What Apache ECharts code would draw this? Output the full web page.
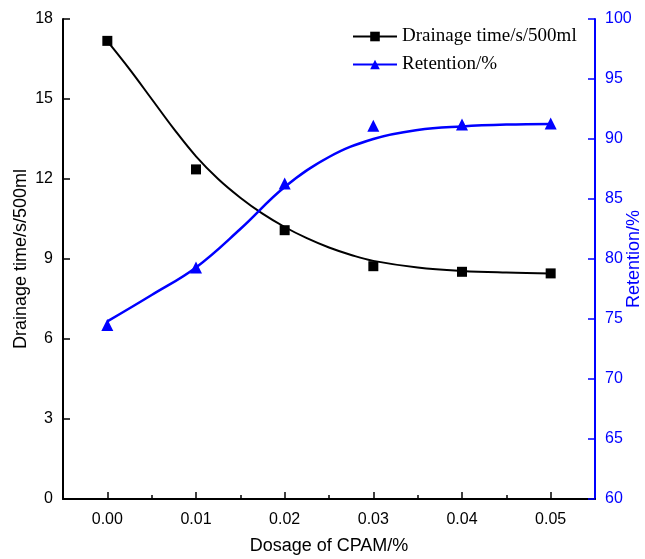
<!DOCTYPE html>
<html>
<head>
<meta charset="utf-8">
<script src="https://cdn.jsdelivr.net/npm/echarts@6/dist/echarts.min.js"></script>
<style>
  html, body { margin: 0; padding: 0; background: #fff; }
  #chart { width: 645px; height: 559px; }
</style>
</head>
<body>
<div id="chart"></div>
<script>
// measured points
const dosage = [0.00, 0.01, 0.02, 0.03, 0.04, 0.05];
const drainage = [17.18, 12.36, 10.08, 8.73, 8.52, 8.46];
const retention = [74.5, 79.3, 86.3, 91.1, 91.2, 91.3];

// fitted curves
const drainFitX = [0, 0.0025, 0.005, 0.0075, 0.01, 0.0125, 0.015, 0.0175, 0.02, 0.0225, 0.025, 0.0275, 0.03, 0.035, 0.04, 0.045, 0.05];
const drainFitY = [17.17, 16.12, 15.0, 13.88, 12.85, 12.0, 11.3, 10.7, 10.2, 9.78, 9.43, 9.15, 8.93, 8.68, 8.55, 8.49, 8.46];
const retFitX = [0, 0.005, 0.01, 0.015, 0.02, 0.025, 0.03, 0.035, 0.04, 0.045, 0.05];
const retFitY = [74.8, 77.0, 79.3, 82.5, 86.0, 88.5, 90.0, 90.75, 91.05, 91.2, 91.25];

const majorTicks = [0, 0.01, 0.02, 0.03, 0.04, 0.05];
const minorTicks = [0.005, 0.015, 0.025, 0.035, 0.045];

const zip = (a, b) => a.map((v, i) => [v, b[i]]);

const chart = echarts.init(document.getElementById('chart'));

const option = {
    animation: false,
    grid: { left: 63, right: 50, top: 19, bottom: 60, containLabel: false, outerBoundsMode: 'none' },
    legend: {
        data: ['Drainage time/s/500ml', 'Retention/%'],
        orient: 'vertical',
        left: 347,
        top: 22,
        itemWidth: 44,
        itemHeight: 12,
        itemGap: 9,
        textStyle: { fontFamily: 'Liberation Serif', fontSize: 19, color: '#000' }
    },
    xAxis: [
        {
            type: 'value',
            min: -0.005,
            max: 0.055,
            name: 'Dosage of CPAM/%',
            nameLocation: 'middle',
            nameGap: 38,
            nameTextStyle: { fontFamily: 'Liberation Sans', fontSize: 18, color: '#000' },
            splitLine: { show: false },
            axisLine: { onZero: false, lineStyle: { color: '#000', width: 2 } },
            axisTick: { inside: true, length: 7, lineStyle: { width: 1.5 }, customValues: majorTicks },
            axisLabel: {
                customValues: majorTicks,
                margin: 13,
                fontFamily: 'Liberation Sans', fontSize: 16, color: '#000',
                formatter: v => v.toFixed(2)
            }
        },
        {
            type: 'value',
            min: -0.005,
            max: 0.055,
            position: 'bottom',
            splitLine: { show: false },
            axisLine: { show: false, onZero: false },
            axisTick: { inside: true, length: 4, lineStyle: { color: '#000', width: 1.5 }, customValues: minorTicks },
            axisLabel: { show: false }
        }
    ],
    yAxis: [
        {
            type: 'value',
            min: 0,
            max: 18,
            interval: 3,
            position: 'left',
            name: 'Drainage time/s/500ml',
            nameLocation: 'middle',
            nameGap: 33,
            nameMoveOverlap: false,
            nameTextStyle: { fontFamily: 'Liberation Sans', fontSize: 18, color: '#000' },
            splitLine: { show: false },
            axisLine: { show: true, onZero: false, lineStyle: { color: '#000', width: 2 } },
            axisTick: { show: true, inside: true, length: 7, lineStyle: { width: 1.5 } },
            axisLabel: { margin: 10, fontFamily: 'Liberation Sans', fontSize: 16, color: '#000' }
        },
        {
            type: 'value',
            min: 60,
            max: 100,
            interval: 5,
            position: 'right',
            name: 'Retention/%',
            nameLocation: 'middle',
            nameGap: 30,
            nameMoveOverlap: false,
            nameTextStyle: { fontFamily: 'Liberation Sans', fontSize: 18, color: '#0000ff' },
            splitLine: { show: false },
            axisLine: { show: true, onZero: false, lineStyle: { color: '#0000ff', width: 2 } },
            axisTick: { show: true, inside: true, length: 7, lineStyle: { width: 1.5 } },
            axisLabel: { margin: 10, fontFamily: 'Liberation Sans', fontSize: 16, color: '#0000ff' }
        }
    ],
    series: [
        {
            name: 'Drainage time/s/500ml',
            type: 'line',
            yAxisIndex: 0,
            smooth: 0.4,
            symbol: 'rect',
            symbolSize: 9,
            showSymbol: false,
            itemStyle: { color: '#000' },
            lineStyle: { color: '#000', width: 2 },
            data: zip(drainFitX, drainFitY),
            z: 2
        },
        {
            name: 'Retention/%',
            type: 'line',
            yAxisIndex: 1,
            smooth: 0.4,
            symbol: 'triangle',
            symbolSize: 11,
            showSymbol: false,
            itemStyle: { color: '#0000ff' },
            lineStyle: { color: '#0000ff', width: 2.5 },
            data: zip(retFitX, retFitY),
            z: 2
        },
        {
            name: 'drainPts',
            type: 'scatter',
            yAxisIndex: 0,
            symbol: 'rect',
            symbolSize: 10,
            itemStyle: { color: '#000', opacity: 1 },
            data: zip(dosage, drainage),
            z: 3
        },
        {
            name: 'retPts',
            type: 'scatter',
            yAxisIndex: 1,
            symbol: 'triangle',
            symbolSize: 12,
            itemStyle: { color: '#0000ff', opacity: 1 },
            data: zip(dosage, retention),
            z: 3
        }
    ]
};

chart.setOption(option);
</script>
</body>
</html>
